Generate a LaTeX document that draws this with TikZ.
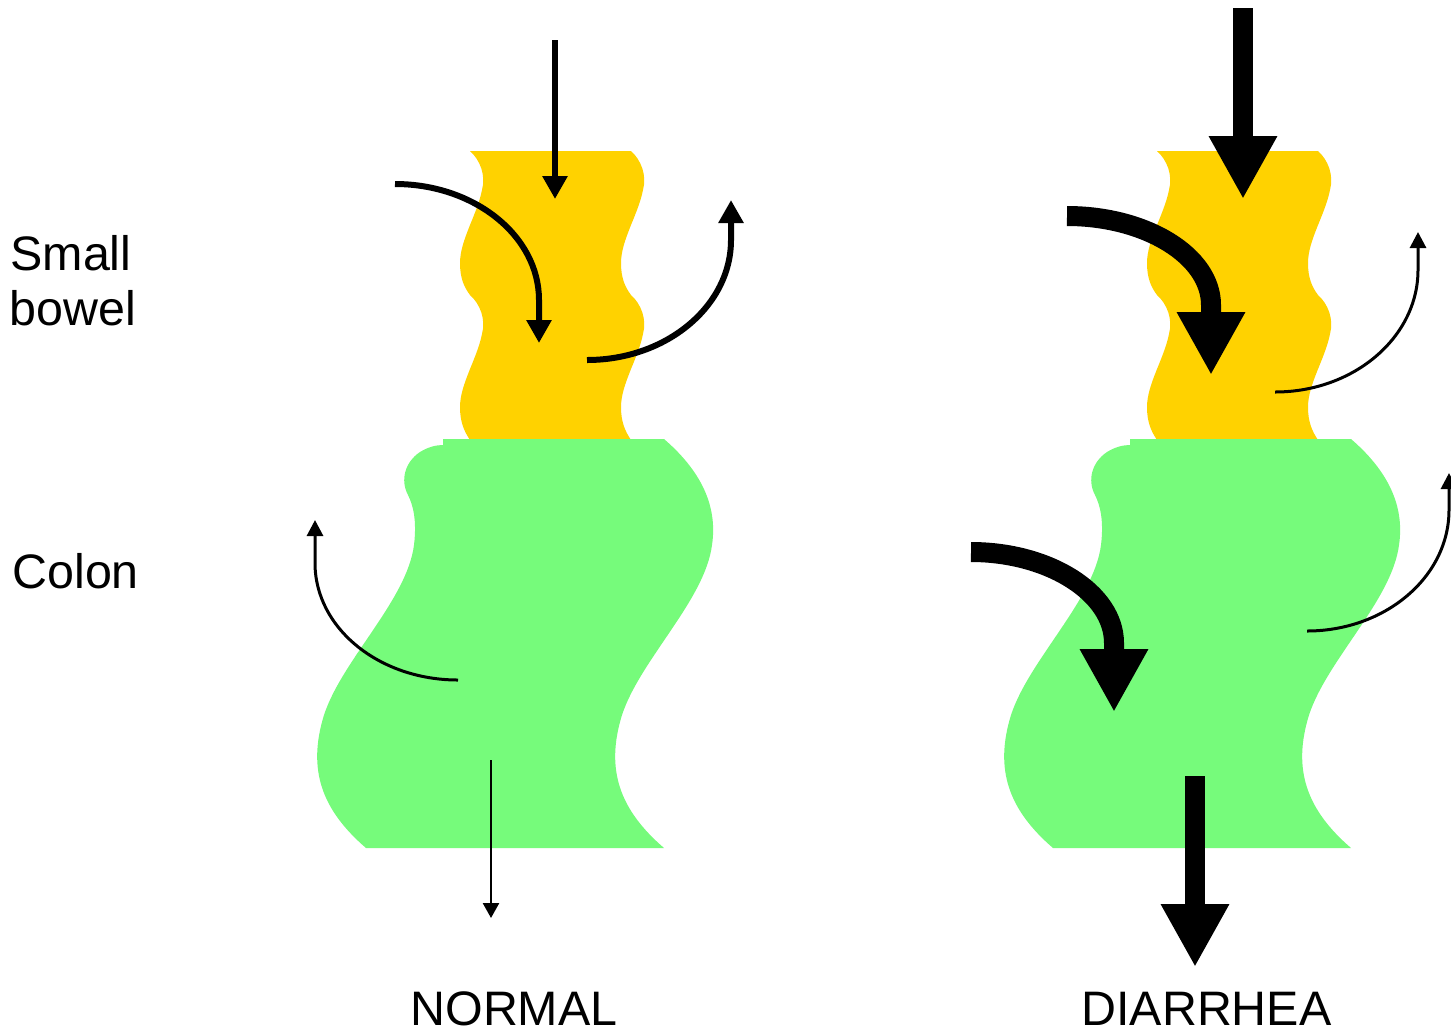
\documentclass[tikz,border=0pt]{standalone}
\usepackage{fontspec}
\setmainfont{Liberation Sans}
\usetikzlibrary{arrows.meta}
\definecolor{bowelyellow}{RGB}{255,210,0}
\definecolor{colongreen}{RGB}{118,251,123}

% One gut column: wavy small bowel on top of an S-shaped colon
\newcommand{\gutcolumn}{%
  \fill[bowelyellow] (470,151)
    .. controls (480,160) and (486,175) .. (482,190)
    .. controls (477,215) and (460,240) .. (460,263)
    .. controls (460,278) and (464,287) .. (470,295)
    .. controls (480,304) and (486,319) .. (482,334)
    .. controls (477,359) and (460,384) .. (460,407)
    .. controls (460,422) and (464,431) .. (470,440)
    -- (631,440)
    .. controls (625,431) and (621,422) .. (621,407)
    .. controls (621,384) and (638,359) .. (643,334)
    .. controls (647,319) and (641,304) .. (631,295)
    .. controls (625,287) and (621,278) .. (621,263)
    .. controls (621,240) and (638,215) .. (643,190)
    .. controls (647,175) and (641,160) .. (631,151)
    -- cycle;
  \fill[colongreen] (443,439) -- (664,439)
    .. controls (700,470) and (718,505) .. (712,545)
    .. controls (705,600) and (640,660) .. (622,715)
    .. controls (605,770) and (620,810) .. (664,848)
    -- (366,848)
    .. controls (322,810) and (307,770) .. (324,715)
    .. controls (342,660) and (407,600) .. (414,545)
    .. controls (417,520) and (413,505) .. (408,495)
    .. controls (400,480) and (405,462) .. (420,452)
    .. controls (428,447) and (436,445) .. (443,445)
    -- cycle;
}

\begin{document}
\begin{tikzpicture}[x=0.5pt,y=-0.5pt,
  lbl/.style={inner sep=0pt, anchor=base west, text depth=0pt, font=\fontsize{24.2}{29}\selectfont},
  flowmed/.style={line width=3pt, -{Triangle[length=11.5pt,width=12pt]}},
  flowthin/.style={line width=1.5pt, -{Triangle[length=8pt,width=8pt]}},
  flowhair/.style={line width=1.25pt, -{Triangle[length=7.5pt,width=8pt]}},
  flowthick/.style={line width=10pt, -{Triangle[length=31.5pt,width=32pt]}},
]
\clip (0,0) rectangle (1451,1030);

% organ shapes
\gutcolumn
\begin{scope}[shift={(687,0)}]
  \gutcolumn
\end{scope}

% labels
\node[lbl] (lbl-small) at (10,270) {Small};
\node[lbl] (lbl-bowel) at (9,325) {bowel};
\node[lbl] (lbl-colon) at (12,588) {Colon};
\node[lbl] (lbl-normal) at (410,1025) {NORMAL};
\node[lbl] (lbl-diarrhea) at (1081,1025) {DIARRHEA};

% normal: flow end points
\coordinate (n-in-top) at (555,40);
\coordinate (n-in-tip) at (555,199);
\coordinate (n-sec-start) at (395,184);
\coordinate (n-sec-bend) at (539,300);
\coordinate (n-sec-tip) at (539,343);
\coordinate (n-abs-start) at (587,360);
\coordinate (n-abs-bend) at (731,240);
\coordinate (n-abs-tip) at (731,200);
\coordinate (n-col-start) at (458,680);
\coordinate (n-col-bend) at (315,563);
\coordinate (n-col-tip) at (315,520);
\coordinate (n-out-top) at (491,760);
\coordinate (n-out-tip) at (491,918);

% normal: flows
\draw[flowmed] (n-in-top) -- (n-in-tip);
\draw[flowmed] (n-sec-start) .. controls +(79.5,0) and +(0,-64) .. (n-sec-bend) -- (n-sec-tip);
\draw[flowmed] (n-abs-start) .. controls +(79.5,0) and +(0,66) .. (n-abs-bend) -- (n-abs-tip);
\draw[flowthin] (n-col-start) .. controls +(-79,0) and +(0,65) .. (n-col-bend) -- (n-col-tip);
\draw[flowhair] (n-out-top) -- (n-out-tip);

% diarrhea: flow end points
\coordinate (d-in-top) at (1243,8);
\coordinate (d-in-tip) at (1243,199);
\coordinate (d-sec-start) at (1067,216);
\coordinate (d-sec-bend) at (1211,305);
\coordinate (d-sec-tip) at (1211,375);
\coordinate (d-abs-start) at (1275,392);
\coordinate (d-abs-bend) at (1418,270);
\coordinate (d-abs-tip) at (1418,232);
\coordinate (d-csec-start) at (971,552);
\coordinate (d-csec-bend) at (1114,643);
\coordinate (d-csec-tip) at (1114,712);
\coordinate (d-cabs-start) at (1307,631);
\coordinate (d-cabs-bend) at (1449,510);
\coordinate (d-cabs-tip) at (1449,473);
\coordinate (d-out-top) at (1195,776);
\coordinate (d-out-tip) at (1195,967);

% diarrhea: flows
\draw[flowthick] (d-in-top) -- (d-in-tip);
\draw[flowthick] (d-sec-start) .. controls +(79,0) and +(0,-49) .. (d-sec-bend) -- (d-sec-tip);
\draw[flowthin] (d-abs-start) .. controls +(79,0) and +(0,67) .. (d-abs-bend) -- (d-abs-tip);
\draw[flowthick] (d-csec-start) .. controls +(78,0) and +(0,-50) .. (d-csec-bend) -- (d-csec-tip);
\draw[flowthin] (d-cabs-start) .. controls +(78,0) and +(0,67) .. (d-cabs-bend) -- (d-cabs-tip);
\draw[flowthick] (d-out-top) -- (d-out-tip);
\end{tikzpicture}
\end{document}
